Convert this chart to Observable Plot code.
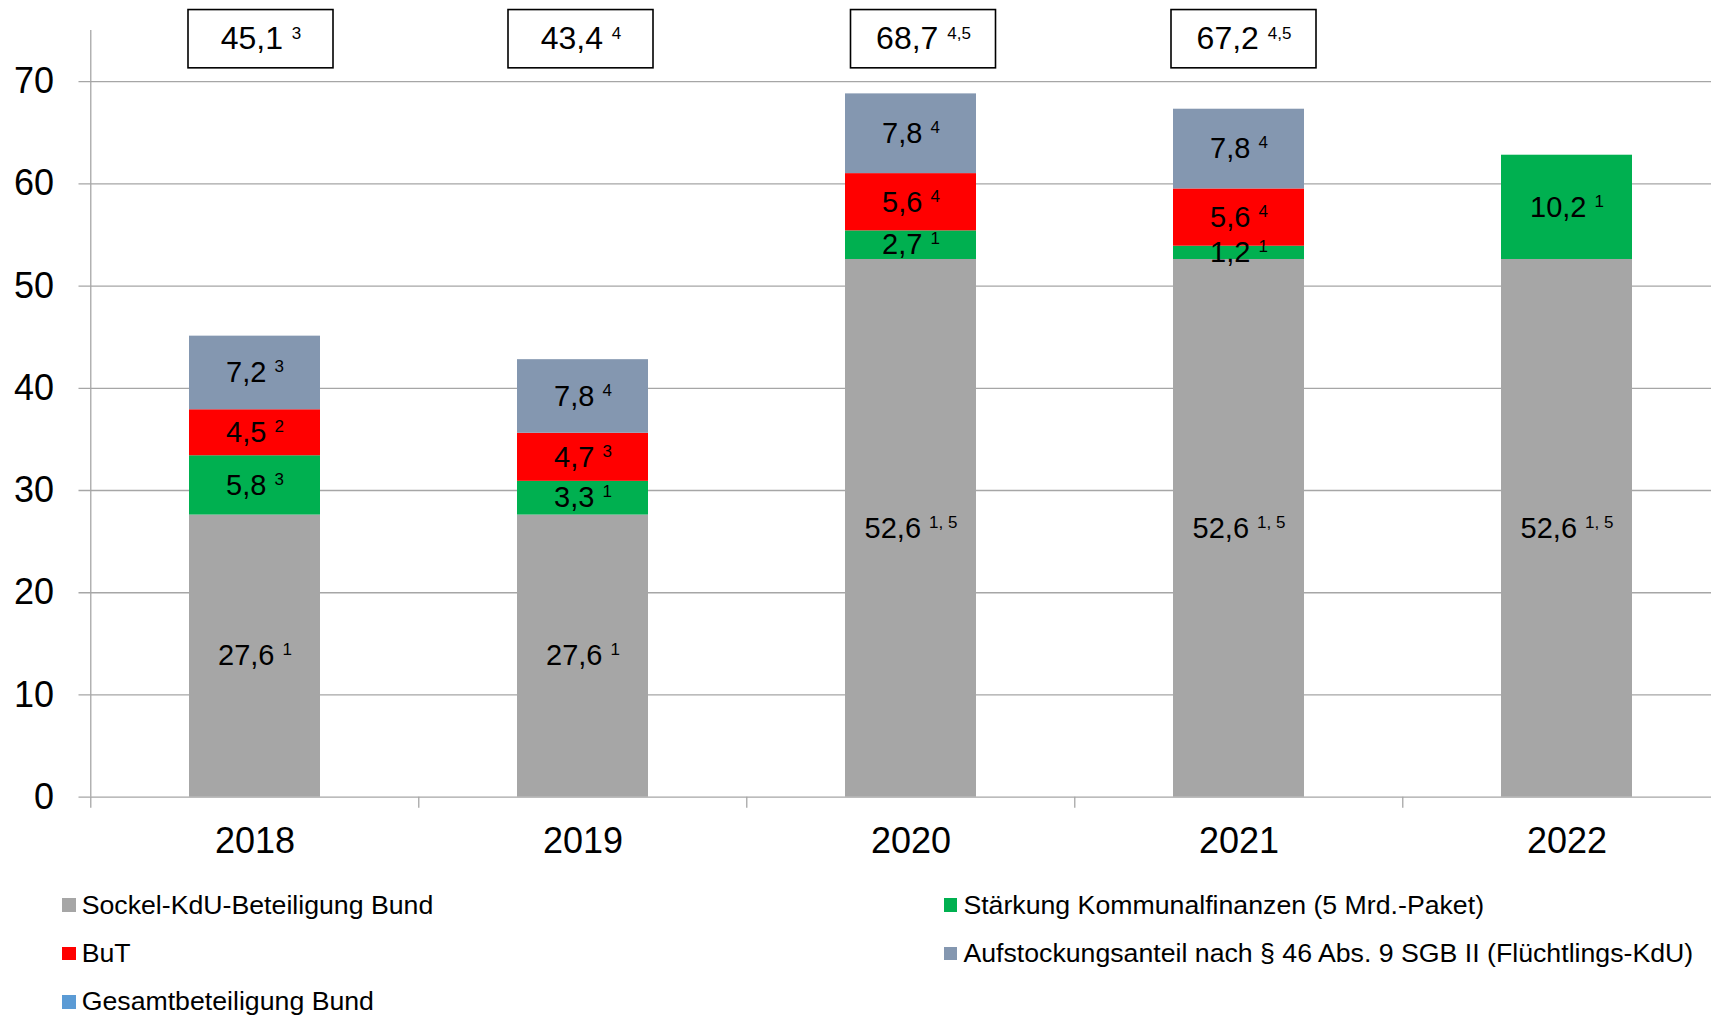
<!DOCTYPE html>
<html>
<head>
<meta charset="utf-8">
<script src="https://cdn.jsdelivr.net/npm/d3@7"></script>
<script src="https://cdn.jsdelivr.net/npm/@observablehq/plot@0.6"></script>
<style>
  html, body { margin: 0; padding: 0; background: #fff; overflow: hidden; }
  #legend {
    display: grid;
    grid-template-columns: 881.7px auto;
    padding-left: 62.3px;
    padding-top: 11px;
    font-family: 'Liberation Sans', Arial, sans-serif;
    font-size: 26.7px;
    color: #000;
  }
  .item { height: 48.3px; display: flex; align-items: center; white-space: nowrap; }
  .sw { width: 13.4px; height: 13.6px; margin-right: 6px; flex: none; }
</style>
</head>
<body>
<div id="chart"></div>
<div id="legend"></div>
<script>
// ---- data ----
const years = ["2018", "2019", "2020", "2021", "2022"];
const seriesNames = [
  "Sockel-KdU-Beteiligung Bund",
  "Stärkung Kommunalfinanzen (5 Mrd.-Paket)",
  "BuT",
  "Aufstockungsanteil nach § 46 Abs. 9 SGB II (Flüchtlings-KdU)"
];
const totalName = "Gesamtbeteiligung Bund";
const seriesColors = ["#A6A6A6", "#00B050", "#FF0000", "#8497B0"];
const totalColor = "#5B9BD5";

// drawn segment heights (Mrd. €)
const sockel      = [27.6, 27.6, 52.6, 52.6, 52.6];
const staerkung   = [5.8, 3.3, 2.8, 1.3, 10.2];
const but         = [4.5, 4.7, 5.6, 5.6, 0];
const aufstockung = [7.2, 7.2, 7.8, 7.8, 0];

// printed data labels ("^" separates the footnote superscript)
const sockelLabels      = ["27,6^1", "27,6^1", "52,6^1, 5", "52,6^1, 5", "52,6^1, 5"];
const staerkungLabels   = ["5,8^3", "3,3^1", "2,7^1", "1,2^1", "10,2^1"];
const butLabels         = ["4,5^2", "4,7^3", "5,6^4", "5,6^4", ""];
const aufstockungLabels = ["7,2^3", "7,8^4", "7,8^4", "7,8^4", ""];
const totalLabels       = ["45,1^3", "43,4^4", "68,7^4,5", "67,2^4,5", ""];

const yTicks = [0, 10, 20, 30, 40, 50, 60, 70];

// ---- build tables ----
const values = [sockel, staerkung, but, aufstockung];
const labels = [sockelLabels, staerkungLabels, butLabels, aufstockungLabels];
const data = [];
seriesNames.forEach((s, si) => {
  years.forEach((yr, i) => {
    if (values[si][i] > 0) data.push({year: yr, series: s, value: values[si][i], label: labels[si][i]});
  });
});
const boxes = years.map((yr, i) => ({year: yr, label: totalLabels[i]})).filter(d => d.label !== "");

const W = 1711, H = 870;
const mL = 89.5, mT = 30, mB = 73.3;
const xRange = [89.5, 1731.75];
const halfStep = (xRange[1] - xRange[0]) / years.length / 2;
const grid = "#a6a6a6";
const font = "'Liberation Sans', Arial, sans-serif";
// the total boxes are hand-placed in the original, slightly off the bar centres
const boxShift = {"2018": 6, "2019": -2, "2020": 12.5, "2021": 5};

const boxMarks = boxes.flatMap(b => [
  Plot.barY([b], {x: "year", y1: 71.3, y2: 77.0, fill: "#fff", stroke: "#000", strokeWidth: 1.6,
    insetLeft: -7, insetRight: -7, dx: boxShift[b.year]}),
  Plot.text([b], {x: "year", text: "label", frameAnchor: "top", lineAnchor: "middle", dy: 8.5,
    dx: boxShift[b.year], fontSize: 32, fill: "#000"})
]);

const svg = Plot.plot({
  width: W,
  height: H,
  marginLeft: mL,
  marginRight: 0,
  marginTop: mT,
  marginBottom: mB,
  style: {fontFamily: font, fontSize: "29px", color: "#000", background: "#fff", overflow: "hidden"},
  x: {domain: years, range: xRange, paddingInner: 0.6, paddingOuter: 0.3, axis: null, label: null},
  y: {domain: [0, 75], axis: null, label: null},
  color: {domain: seriesNames, range: seriesColors},
  marks: [
    Plot.ruleY(yTicks, {y: d => d, stroke: grid, strokeWidth: 1.3, insetLeft: -11}),
    Plot.ruleX([years[0]], {x: d => d, dx: -halfStep, stroke: grid, strokeWidth: 1.3}),
    Plot.axisX({tickSize: 11, tickFormat: () => "", label: null, dx: -halfStep, stroke: grid, strokeWidth: 1.3}),
    Plot.barY(data, {x: "year", y: "value", fill: "series", z: "series"}),
    Plot.text(data, Plot.stackY({x: "year", y: "value", z: "series", text: "label", fontSize: 29, fill: "#000"})),
    ...boxMarks,
    Plot.text(yTicks, {y: d => d, text: d => String(d), frameAnchor: "left", textAnchor: "end", lineAnchor: "middle", dx: -36, fontSize: 36, fill: "#000"}),
    Plot.text(years, {x: d => d, text: d => d, frameAnchor: "bottom", lineAnchor: "top", dy: 30, fontSize: 36, fill: "#000"})
  ]
});

// superscript footnotes
const NS = "http://www.w3.org/2000/svg";
svg.querySelectorAll("text").forEach(t => {
  const s = t.textContent;
  const k = s.indexOf("^");
  if (k < 0) return;
  t.textContent = "";
  t.style.whiteSpace = "pre";
  const a = document.createElementNS(NS, "tspan");
  a.textContent = s.slice(0, k) + " ";
  const b = document.createElementNS(NS, "tspan");
  b.setAttribute("font-size", "17");
  b.setAttribute("dy", "-10");
  b.textContent = s.slice(k + 1);
  t.append(a, b);
});
document.getElementById("chart").append(svg);

// legend (two columns, row-wise)
const legendItems = [
  [seriesNames[0], seriesColors[0]],
  [seriesNames[1], seriesColors[1]],
  [seriesNames[2], seriesColors[2]],
  [seriesNames[3], seriesColors[3]],
  [totalName, totalColor]
];
const leg = document.getElementById("legend");
legendItems.forEach(([name, col]) => {
  const it = document.createElement("div");
  it.className = "item";
  const sw = document.createElement("span");
  sw.className = "sw";
  sw.style.background = col;
  const tx = document.createElement("span");
  tx.textContent = name;
  it.append(sw, tx);
  leg.append(it);
});
</script>
</body>
</html>
